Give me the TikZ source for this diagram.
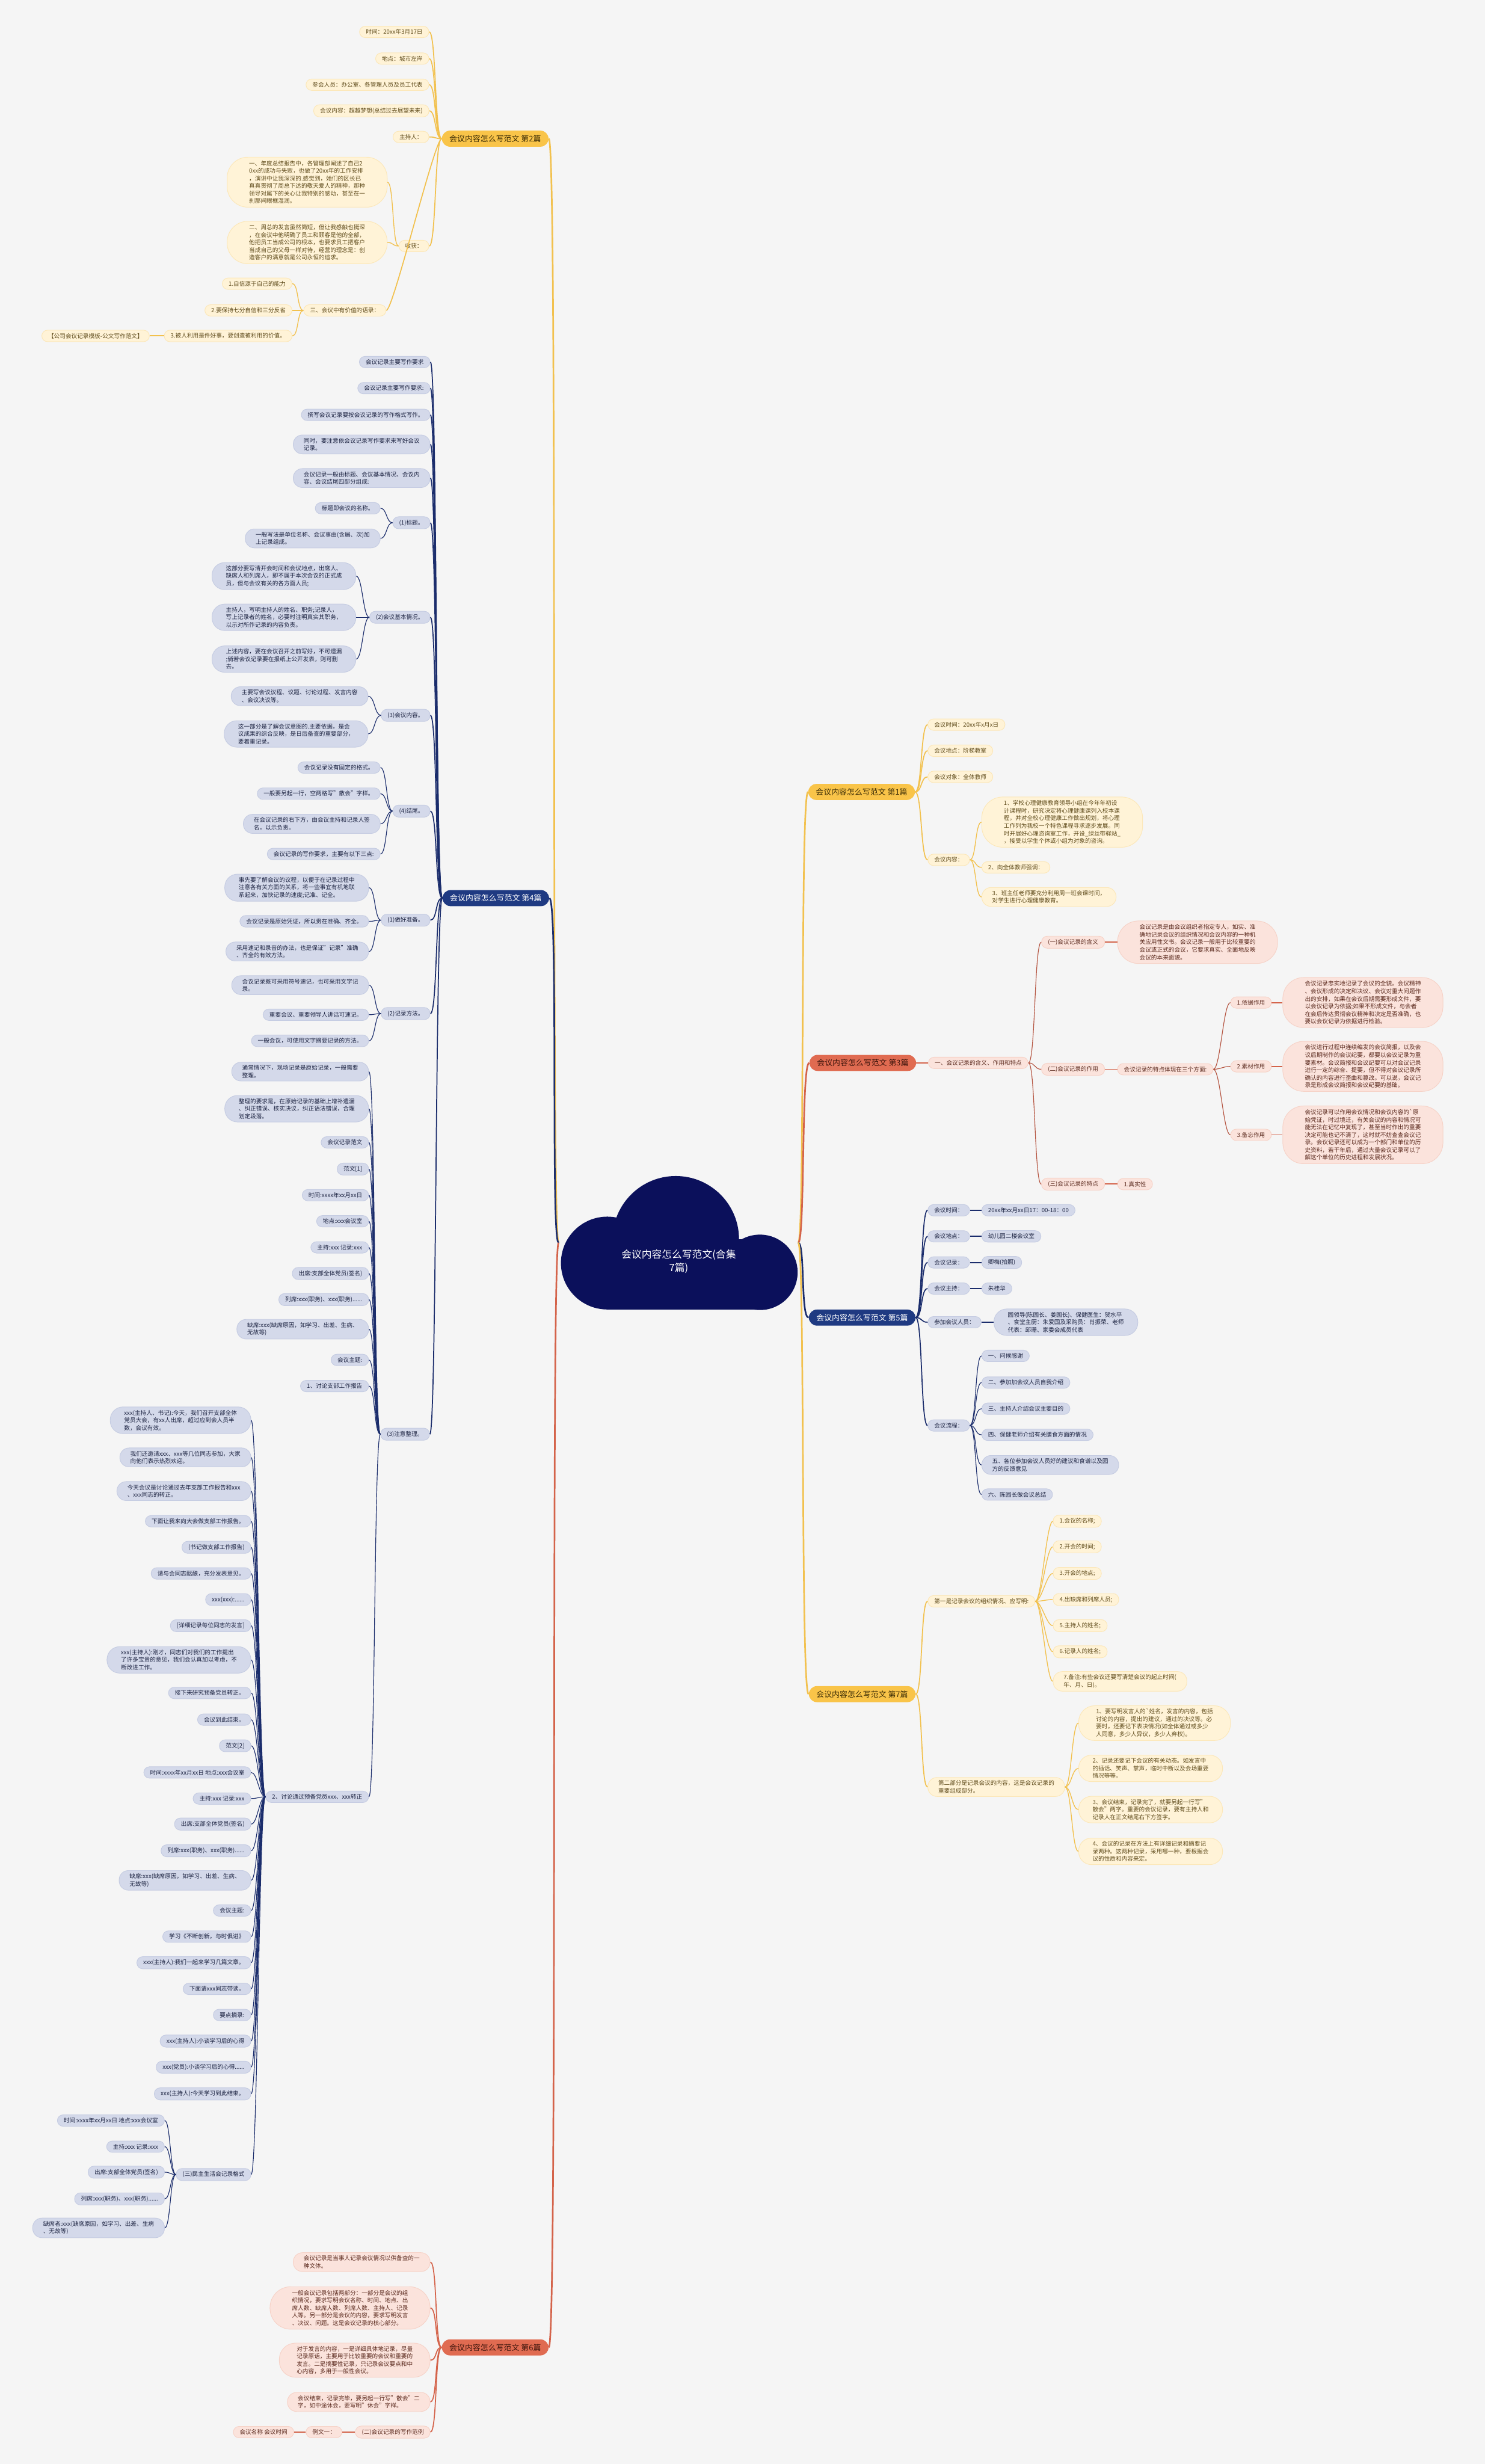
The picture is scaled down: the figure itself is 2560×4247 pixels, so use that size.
\documentclass[tikz,border=0pt]{standalone}
\usepackage{fontspec}
\setmainfont{Noto Sans CJK SC}
\definecolor{bgc}{HTML}{F5F5F5}
\definecolor{rootc}{HTML}{0B105B}
\definecolor{navyc}{HTML}{1F3A82}
\definecolor{goldc}{HTML}{F9C449}
\definecolor{coralc}{HTML}{E06B51}
\definecolor{ytitle}{HTML}{3B2C05}
\definecolor{ctitle}{HTML}{3E150C}
\definecolor{yfill}{HTML}{FFF3D7}
\definecolor{yedge}{HTML}{FCE7B8}
\definecolor{ytext}{HTML}{5E4A1A}
\definecolor{pfill}{HTML}{FBE3DC}
\definecolor{pedge}{HTML}{F6D2C7}
\definecolor{ptext}{HTML}{5B2A1E}
\definecolor{bfill}{HTML}{D4D9EA}
\definecolor{bedge}{HTML}{C5CCE2}
\definecolor{btext}{HTML}{1C2341}
\definecolor{yline}{HTML}{F2C14E}
\definecolor{nline}{HTML}{1B2D6C}
\definecolor{cline}{HTML}{D4634A}
\definecolor{bline}{HTML}{B4533F}
\begin{document}
\begin{tikzpicture}[x=0.5pt,y=-0.5pt]
    \tikzstyle{leaf}=[rounded corners=5pt,inner xsep=5.5pt,inner ysep=2.6pt,align=left,line width=0.5pt,font=\fontsize{5}{6.5}\selectfont]
    \tikzstyle{yel}=[leaf,fill=yfill,draw=yedge,text=ytext]
    \tikzstyle{pnk}=[leaf,fill=pfill,draw=pedge,text=ptext]
    \tikzstyle{blu}=[leaf,fill=bfill,draw=bedge,text=btext]
    \tikzstyle{mtwo}=[rounded corners=8pt,inner xsep=9pt]
    \tikzstyle{mthree}=[rounded corners=11pt,inner xsep=12pt]
    \tikzstyle{mfour}=[rounded corners=14pt,inner xsep=15pt]
    \tikzstyle{big}=[rounded corners=18pt,inner xsep=19pt,inner ysep=3pt]
    \tikzstyle{branch}=[rounded corners=7pt,inner xsep=6.5pt,inner ysep=3.8pt,font=\fontsize{6.7}{8}\selectfont]
    \tikzstyle{lft}=[anchor=east]
    \tikzstyle{rgt}=[anchor=west]
    \tikzstyle{ylk}=[draw=yline,line width=0.7pt]
    \tikzstyle{nlk}=[draw=nline,line width=0.6pt]
    \tikzstyle{clk}=[draw=bline,line width=0.6pt]
    \tikzstyle{trunk}=[line width=1.4pt]
    \useasboundingbox (0,0) rectangle (2560,4247);
    \fill[bgc] (0,0) rectangle (2560,4247);
    % cloud in the middle
    \fill[rootc] (1047,2177) circle (40pt);
    \fill[rootc] (1165,2136) circle (54.5pt);
    \fill[rootc] (1310,2193) circle (32.5pt);
    \fill[rootc] (1047,2136) rectangle (1310,2257);
    \node[text=white,align=center,font=\fontsize{8.7}{11.5}\selectfont] (root) at (1170,2174) {会议内容怎么写范文(合集\\7篇)};
    \coordinate (rootL) at (963,2142);
    \coordinate (rootR) at (1376,2142);

    % ---- 第2篇
    \node[branch,lft,fill=goldc,text=ytitle] (b2) at (946,239) {会议内容怎么写范文 第2篇};
    \node[yel,lft] (t1) at (740,55) {时间：20xx年3月17日};
    \node[yel,lft] (t2) at (740,101) {地点：城市左岸};
    \node[yel,lft] (t3) at (740,146) {参会人员：办公室、各管理人员及员工代表};
    \node[yel,lft] (t4) at (740,191) {会议内容：超越梦想(总结过去展望未来)};
    \node[yel,lft] (t5) at (740,236) {主持人：};
    \node[yel,lft] (shou) at (740,424) {收获：};
    \node[yel,big,lft] (s1) at (668,314) {一、年度总结报告中，各管理部阐述了自己2\\0xx的成功与失败，也做了20xx年的工作安排\\，演讲中让我深深的.感觉到，她们的区长已\\真真贯彻了周总下达的敬天爱人的精神，那种\\领导对属下的关心让我特别的感动，甚至在一\\刹那间眼框湿润。};
    \node[yel,big,lft] (s2) at (668,418) {二、周总的发言虽然简短，但让我感触也挺深\\，在会议中他明确了员工和顾客是他的全部，\\他把员工当成公司的根本，也要求员工把客户\\当成自己的父母一样对待，经营的理念是：创\\造客户的满意就是公司永恒的追求。};
    \node[yel,lft] (san) at (666,535) {三、会议中有价值的语录：};
    \node[yel,lft] (q1) at (504,489) {1.自信源于自己的能力};
    \node[yel,lft] (q2) at (504,535) {2.要保持七分自信和三分反省};
    \node[yel,lft] (q3) at (504,579) {3.被人利用是件好事，要创造被利用的价值。};
    \node[yel,lft] (q3x) at (258,579) {【公司会议记录模板-公文写作范文】};

    % ---- 第4篇
    \node[branch,lft,fill=navyc,text=white] (b4) at (947,1548) {会议内容怎么写范文 第4篇};
    \node[blu,lft] (c1) at (742,624) {会议记录主要写作要求};
    \node[blu,lft] (c2) at (742,669) {会议记录主要写作要求:};
    \node[blu,lft] (c3) at (742,715) {撰写会议记录要按会议记录的写作格式写作。};
    \node[blu,mtwo,lft] (c4) at (742,766) {同时，要注意依会议记录写作要求来写好会议\\记录。};
    \node[blu,mtwo,lft] (c5) at (742,824) {会议记录一般由标题、会议基本情况、会议内\\容、会议结尾四部分组成:};
    \node[blu,lft] (h1) at (742,901) {(1)标题。};
    \node[blu,lft] (h1a) at (656,876) {标题即会议的名称。};
    \node[blu,mtwo,lft] (h1b) at (656,928) {一般写法是单位名称、会议事由(含届、次)加\\上记录组成。};
    \node[blu,lft] (h2) at (742,1064) {(2)会议基本情况。};
    \node[blu,mthree,lft] (h2a) at (614,993) {这部分要写清开会时间和会议地点，出席人、\\缺席人和列席人，即不属于本次会议的正式成\\员，但与会议有关的各方面人员;};
    \node[blu,mthree,lft] (h2b) at (614,1064) {主持人，写明主持人的姓名、职务;记录人，\\写上记录者的姓名，必要时注明真实其职务，\\以示对所作记录的内容负责。};
    \node[blu,mthree,lft] (h2c) at (614,1136) {上述内容，要在会议召开之前写好，不可遗漏\\;倘若会议记录要在报纸上公开发表，则可删\\去。};
    \node[blu,lft] (h3) at (742,1233) {(3)会议内容。};
    \node[blu,mtwo,lft] (h3a) at (635,1200) {主要写会议议程、议题、讨论过程、发言内容\\、会议决议等。};
    \node[blu,mthree,lft] (h3b) at (635,1265) {这一部分是了解会议意图的.主要依据，是会\\议成果的综合反映，是日后备查的重要部分，\\要着重记录。};
    \node[blu,lft] (h4) at (742,1398) {(4)结尾。};
    \node[blu,lft] (h4a) at (656,1323) {会议记录没有固定的格式。};
    \node[blu,lft] (h4b) at (656,1368) {一般要另起一行，空两格写"散会"字样。};
    \node[blu,mtwo,lft] (h4c) at (656,1420) {在会议记录的右下方，由会议主持和记录人签\\名，以示负责。};
    \node[blu,lft] (h4d) at (656,1472) {会议记录的写作要求，主要有以下三点:};
    \node[blu,lft] (p1) at (742,1586) {(1)做好准备。};
    \node[blu,mthree,lft] (p1a) at (636,1530) {事先要了解会议的议程，以便于在记录过程中\\注意各有关方面的关系，将一些事宜有机地联\\系起来，加快记录的速度;记准、记全。};
    \node[blu,lft] (p1b) at (636,1588) {会议记录是原始凭证，所以贵在准确、齐全。};
    \node[blu,mtwo,lft] (p1c) at (636,1640) {采用速记和录音的办法，也是保证"记录"准确\\、齐全的有效方法。};
    \node[blu,lft] (p2) at (742,1747) {(2)记录方法。};
    \node[blu,mtwo,lft] (p2a) at (636,1698) {会议记录既可采用符号速记，也可采用文字记\\录。};
    \node[blu,lft] (p2b) at (636,1749) {重要会议、重要领导人讲话可速记。};
    \node[blu,lft] (p2c) at (636,1794) {一般会议，可使用文字摘要记录的方法。};
    \node[blu,lft] (p3) at (741,2472) {(3)注意整理。};
    \node[blu,mtwo,lft] (z1) at (636,1847) {通常情况下，现场记录是原始记录，一般需要\\整理。};
    \node[blu,mthree,lft] (z2) at (636,1911) {整理的要求是，在原始记录的基础上增补遗漏\\、纠正错误、核实决议，纠正语法错误，合理\\划定段落。};
    \node[blu,lft] (z3) at (636,1969) {会议记录范文};
    \node[blu,lft] (z4) at (636,2015) {范文[1]};
    \node[blu,lft] (z5) at (636,2060) {时间:xxxx年xx月xx日};
    \node[blu,lft] (z6) at (636,2105) {地点:xxx会议室};
    \node[blu,lft] (z7) at (636,2150) {主持:xxx 记录:xxx};
    \node[blu,lft] (z8) at (636,2195) {出席:支部全体党员(签名)};
    \node[blu,lft] (z9) at (636,2240) {列席:xxx(职务)、xxx(职务)......};
    \node[blu,mtwo,lft] (z10) at (636,2291) {缺席:xxx(缺席原因，如学习、出差、生病、\\无故等)};
    \node[blu,lft] (z11) at (636,2344) {会议主题:};
    \node[blu,lft] (z12) at (636,2389) {1、讨论支部工作报告};
    \node[blu,lft] (zz) at (636,3097) {2、讨论通过预备党员xxx、xxx转正};
    \node[blu,mthree,lft] (y1) at (433,2448) {xxx(主持人、书记):今天，我们召开支部全体\\党员大会，有xx人出席，超过应到会人员半\\数，会议有效。};
    \node[blu,mtwo,lft] (y2) at (433,2512) {我们还邀请xxx、xxx等几位同志参加，大家\\向他们表示热烈欢迎。};
    \node[blu,mtwo,lft] (y3) at (433,2570) {今天会议是讨论通过去年支部工作报告和xxx\\、xxx同志的转正。};
    \node[blu,lft] (y4) at (433,2622) {下面让我来向大会做支部工作报告。};
    \node[blu,lft] (y5) at (433,2667) {(书记做支部工作报告)};
    \node[blu,lft] (y6) at (433,2712) {请与会同志酝酿，充分发表意见。};
    \node[blu,lft] (y7) at (433,2757) {xxx(xxx):......};
    \node[blu,lft] (y8) at (433,2802) {[详细记录每位同志的发言]};
    \node[blu,mthree,lft] (y9) at (433,2861) {xxx(主持人):刚才，同志们对我们的工作提出\\了许多宝贵的意见，我们会认真加以考虑，不\\断改进工作。};
    \node[blu,lft] (y10) at (433,2918) {接下来研究预备党员转正。};
    \node[blu,lft] (y11) at (433,2964) {会议到此结束。};
    \node[blu,lft] (y12) at (433,3009) {范文[2]};
    \node[blu,lft] (y13) at (433,3055) {时间:xxxx年xx月xx日 地点:xxx会议室};
    \node[blu,lft] (y14) at (433,3100) {主持:xxx 记录:xxx};
    \node[blu,lft] (y15) at (433,3144) {出席:支部全体党员(签名)};
    \node[blu,lft] (y16) at (433,3190) {列席:xxx(职务)、xxx(职务)......};
    \node[blu,mtwo,lft] (y17) at (433,3241) {缺席:xxx(缺席原因，如学习、出差、生病、\\无故等)};
    \node[blu,lft] (y18) at (433,3293) {会议主题:};
    \node[blu,lft] (y19) at (433,3338) {学习《不断创新，与时俱进》};
    \node[blu,lft] (y20) at (433,3383) {xxx(主持人):我们一起来学习几篇文章。};
    \node[blu,lft] (y21) at (433,3428) {下面请xxx同志带读。};
    \node[blu,lft] (y22) at (433,3473) {要点摘录:};
    \node[blu,lft] (y23) at (433,3518) {xxx(主持人):小谈学习后的心得};
    \node[blu,lft] (y24) at (433,3563) {xxx(党员):小谈学习后的心得......};
    \node[blu,lft] (y25) at (433,3609) {xxx(主持人):今天学习到此结束。};
    \node[blu,lft] (sm) at (433,3748) {(三)民主生活会记录格式};
    \node[blu,lft] (m1) at (284,3655) {时间:xxxx年xx月xx日 地点:xxx会议室};
    \node[blu,lft] (m2) at (284,3700) {主持:xxx 记录:xxx};
    \node[blu,lft] (m3) at (284,3744) {出席:支部全体党员(签名)};
    \node[blu,lft] (m4) at (284,3790) {列席:xxx(职务)、xxx(职务)......};
    \node[blu,mtwo,lft] (m5) at (284,3840) {缺席者:xxx(缺席原因，如学习、出差、生病\\、无故等)};

    % ---- 第6篇
    \node[branch,lft,fill=coralc,text=ctitle] (b6) at (946,4046) {会议内容怎么写范文 第6篇};
    \node[pnk,mtwo,lft] (e1) at (742,3899) {会议记录是当事人记录会议情况以供备查的一\\种文体。};
    \node[pnk,big,lft] (e2) at (742,3978) {一般会议记录包括两部分：一部分是会议的组\\织情况，要求写明会议名称、时间、地点、出\\席人数、缺席人数、列席人数、主持人、记录\\人等。另一部分是会议的内容，要求写明发言\\、决议、问题。这是会议记录的核心部分。};
    \node[pnk,mfour,lft] (e3) at (742,4068) {对于发言的内容，一是详细具体地记录，尽量\\记录原话，主要用于比较重要的会议和重要的\\发言。二是摘要性记录，只记录会议要点和中\\心内容，多用于一般性会议。};
    \node[pnk,mtwo,lft] (e4) at (742,4140) {会议结束，记录完毕，要另起一行写"散会"二\\字，如中途休会，要写明"休会"字样。};
    \node[pnk,lft] (e5) at (742,4192) {(二)会议记录的写作范例};
    \node[pnk,lft] (e5a) at (590,4192) {例文一：};
    \node[pnk,lft] (e5b) at (507,4192) {会议名称 会议时间};

    % ---- 第1篇
    \node[branch,rgt,fill=goldc,text=ytitle] (b1) at (1393,1365) {会议内容怎么写范文 第1篇};
    \node[yel,rgt] (a1) at (1599,1249) {会议时间：20xx年x月x日};
    \node[yel,rgt] (a2) at (1599,1294) {会议地点：阶梯教室};
    \node[yel,rgt] (a3) at (1599,1339) {会议对象：全体教师};
    \node[yel,rgt] (a4) at (1599,1482) {会议内容：};
    \node[yel,big,rgt] (a4a) at (1692,1417) {1、学校心理健康教育领导小组在今年年初设\\计课程时，研究决定将心理健康课列入校本课\\程，并对全校心理健康工作做出规划，将心理\\工作列为我校一个特色课程寻求逐步发展。同\\时开展好心理咨询室工作，开设\_绿丝带驿站\_\\，接受以学生个体或小组为对象的咨询。};
    \node[yel,rgt] (a4b) at (1692,1495) {2、向全体教师强调：};
    \node[yel,mtwo,rgt] (a4c) at (1692,1546) {3、班主任老师要充分利用周一班会课时间，\\对学生进行心理健康教育。};

    % ---- 第3篇
    \node[branch,rgt,fill=coralc,text=ctitle] (b3) at (1395,1832) {会议内容怎么写范文 第3篇};
    \node[pnk,rgt] (d0) at (1600,1832) {一、会议记录的含义、作用和特点};
    \node[pnk,rgt] (d1) at (1795,1624) {(一)会议记录的含义};
    \node[pnk,big,rgt] (d1a) at (1926,1624) {会议记录是由会议组织者指定专人，如实、准\\确地记录会议的组织情况和会议内容的一种机\\关应用性文书。会议记录一般用于比较重要的\\会议或正式的会议，它要求真实、全面地反映\\会议的本来面貌。};
    \node[pnk,rgt] (d2) at (1795,1843) {(二)会议记录的作用};
    \node[pnk,rgt] (d2a) at (1926,1843) {会议记录的特点体现在三个方面:};
    \node[pnk,rgt] (f1) at (2121,1728) {1.依据作用};
    \node[pnk,big,rgt] (f1a) at (2211,1728) {会议记录忠实地记录了会议的全貌。会议精神\\、会议形成的决定和决议、会议对重大问题作\\出的安排，如果在会议后期需要形成文件，要\\以会议记录为依据;如果不形成文件，与会者\\在会后传达贯彻会议精神和决定是否准确，也\\要以会议记录为依据进行检验。};
    \node[pnk,rgt] (f2) at (2121,1838) {2.素材作用};
    \node[pnk,big,rgt] (f2a) at (2211,1838) {会议进行过程中连续编发的会议简报，以及会\\议后期制作的会议纪要，都要以会议记录为重\\要素材。会议简报和会议纪要可以对会议记录\\进行一定的综合、提要，但不得对会议记录所\\确认的内容进行歪曲和篡改。可以说，会议记\\录是形成会议简报和会议纪要的基础。};
    \node[pnk,rgt] (f3) at (2121,1956) {3.备忘作用};
    \node[pnk,big,rgt] (f3a) at (2211,1956) {会议记录可以作用会议情况和会议内容的\textasciigrave 原\\始凭证，时过境迁，有关会议的内容和情况可\\能无法在记忆中复现了，甚至当时作出的重要\\决定可能也记不清了，这时就不妨查查会议记\\录。会议记录还可以成为一个部门和单位的历\\史资料，若干年后，通过大量会议记录可以了\\解这个单位的历史进程和发展状况。};
    \node[pnk,rgt] (d3) at (1795,2041) {(三)会议记录的特点};
    \node[pnk,rgt] (d3a) at (1926,2041) {1.真实性};

    % ---- 第5篇
    \node[branch,rgt,fill=navyc,text=white] (b5) at (1394,2271) {会议内容怎么写范文 第5篇};
    \node[blu,rgt] (g1) at (1599,2086) {会议时间：};
    \node[blu,rgt] (g1a) at (1692,2086) {20xx年xx月xx日17：00-18：00};
    \node[blu,rgt] (g2) at (1599,2131) {会议地点：};
    \node[blu,rgt] (g2a) at (1692,2131) {幼儿园二楼会议室};
    \node[blu,rgt] (g3) at (1599,2176) {会议记录：};
    \node[blu,rgt] (g3a) at (1692,2176) {卿梅(拍照)};
    \node[blu,rgt] (g4) at (1599,2221) {会议主持：};
    \node[blu,rgt] (g4a) at (1692,2221) {朱桂华};
    \node[blu,rgt] (g5) at (1599,2279) {参加会议人员：};
    \node[blu,mthree,rgt] (g5a) at (1713,2279) {园领导(陈园长、姜园长)、保健医生：贺水平\\、食堂主厨：朱爱国及采购员：肖振荣、老师\\代表：邱珊、家委会成员代表};
    \node[blu,rgt] (g6) at (1599,2457) {会议流程：};
    \node[blu,rgt] (g6a) at (1692,2337) {一、问候感谢};
    \node[blu,rgt] (g6b) at (1692,2383) {二、参加加会议人员自我介绍};
    \node[blu,rgt] (g6c) at (1692,2428) {三、主持人介绍会议主要目的};
    \node[blu,rgt] (g6d) at (1692,2473) {四、保健老师介绍有关膳食方面的情况};
    \node[blu,mtwo,rgt] (g6e) at (1692,2525) {五、各位参加会议人员好的建议和食谱以及园\\方的反馈意见};
    \node[blu,rgt] (g6f) at (1692,2576) {六、陈园长做会议总结};

    % ---- 第7篇
    \node[branch,rgt,fill=goldc,text=ytitle] (b7) at (1394,2920) {会议内容怎么写范文 第7篇};
    \node[yel,rgt] (k1) at (1599,2760) {第一是记录会议的组织情况、应写明:};
    \node[yel,rgt] (k1a) at (1815,2622) {1.会议的名称;};
    \node[yel,rgt] (k1b) at (1815,2666) {2.开会的时间;};
    \node[yel,rgt] (k1c) at (1815,2712) {3.开会的地点;};
    \node[yel,rgt] (k1d) at (1815,2757) {4.出缺席和列席人员;};
    \node[yel,rgt] (k1e) at (1815,2802) {5.主持人的姓名;};
    \node[yel,rgt] (k1f) at (1815,2847) {6.记录人的姓名;};
    \node[yel,mtwo,rgt] (k1g) at (1815,2898) {7.备注:有些会议还要写清楚会议的起止时间(\\年、月、日)。};
    \node[yel,mtwo,rgt] (k2) at (1599,3080) {第二部分是记录会议的内容，这是会议记录的\\重要组成部分。};
    \node[yel,mfour,rgt] (k2a) at (1859,2970) {1、要写明发言人的\textasciigrave 姓名，发言的内容，包括\\讨论的内容，提出的建议，通过的决议等。必\\要时，还要记下表决情况(如全体通过或多少\\人同意，多少人异议，多少人弃权)。};
    \node[yel,mthree,rgt] (k2b) at (1859,3048) {2、记录还要记下会议的有关动态。如发言中\\的插话、笑声、掌声，临时中断以及会场重要\\情况等等。};
    \node[yel,mthree,rgt] (k2c) at (1859,3119) {3、会议结束，记录完了，就要另起一行写"\\散会"两字。重要的会议记录，要有主持人和\\记录人在正文结尾右下方签字。};
    \node[yel,mthree,rgt] (k2d) at (1859,3191) {4、会议的记录在方法上有详细记录和摘要记\\录两种。这两种记录，采用哪一种，要根据会\\议的性质和内容来定。};

    % trunks from the cloud
    \draw[ylk,trunk] (rootL) .. controls +(-14,0) and +(16,0) .. (b2.east);
    \draw[nlk,trunk] (rootL) .. controls +(-14,0) and +(16,0) .. (b4.east);
    \draw[draw=cline,trunk] (rootL) .. controls +(-14,0) and +(16,0) .. (b6.east);
    \draw[ylk,trunk] (rootR) .. controls +(12,0) and +(-14,0) .. (b1.west);
    \draw[draw=cline,trunk] (rootR) .. controls +(12,0) and +(-14,0) .. (b3.west);
    \draw[nlk,trunk] (rootR) .. controls +(12,0) and +(-14,0) .. (b5.west);
    \draw[ylk,trunk] (rootR) .. controls +(12,0) and +(-14,0) .. (b7.west);

    % left side links
    \foreach \nd in {t1,t2,t3,t4,t5,shou,san}
      \draw[ylk,line width=0.9pt] (b2.west) .. controls +(-12,0) and +(12,0) .. (\nd.east);
    \foreach \nd in {s1,s2}
      \draw[ylk] (shou.west) .. controls +(-11,0) and +(11,0) .. (\nd.east);
    \foreach \nd in {q1,q2,q3}
      \draw[ylk] (san.west) .. controls +(-11,0) and +(11,0) .. (\nd.east);
    \draw[ylk,line width=1pt] (q3.west) -- (q3x.east);
    \foreach \nd in {c1,c2,c3,c4,c5,h1,h2,h3,h4,p1,p2,p3}
      \draw[nlk,line width=0.9pt] (b4.west) .. controls +(-12,0) and +(12,0) .. (\nd.east);
    \foreach \nd in {h1a,h1b}
      \draw[nlk] (h1.west) .. controls +(-11,0) and +(11,0) .. (\nd.east);
    \foreach \nd in {h2a,h2b,h2c}
      \draw[nlk] (h2.west) .. controls +(-11,0) and +(11,0) .. (\nd.east);
    \foreach \nd in {h3a,h3b}
      \draw[nlk] (h3.west) .. controls +(-11,0) and +(11,0) .. (\nd.east);
    \foreach \nd in {h4a,h4b,h4c,h4d}
      \draw[nlk] (h4.west) .. controls +(-11,0) and +(11,0) .. (\nd.east);
    \foreach \nd in {p1a,p1b,p1c}
      \draw[nlk] (p1.west) .. controls +(-11,0) and +(11,0) .. (\nd.east);
    \foreach \nd in {p2a,p2b,p2c}
      \draw[nlk] (p2.west) .. controls +(-11,0) and +(11,0) .. (\nd.east);
    \foreach \nd in {z1,z2,z3,z4,z5,z6,z7,z8,z9,z10,z11,z12,zz}
      \draw[nlk] (p3.west) .. controls +(-11,0) and +(11,0) .. (\nd.east);
    \foreach \nd in {y1,y2,y3,y4,y5,y6,y7,y8,y9,y10,y11,y12,y13,y14,y15,y16,y17,y18,y19,y20,y21,y22,y23,y24,y25,sm}
      \draw[nlk] (zz.west) .. controls +(-11,0) and +(11,0) .. (\nd.east);
    \foreach \nd in {m1,m2,m3,m4,m5}
      \draw[nlk] (sm.west) .. controls +(-10,0) and +(10,0) .. (\nd.east);
    \foreach \nd in {e1,e2,e3,e4,e5}
      \draw[draw=cline,line width=0.9pt] (b6.west) .. controls +(-12,0) and +(12,0) .. (\nd.east);
    \draw[draw=cline,line width=1pt] (e5.west) -- (e5a.east);
    \draw[draw=cline,line width=1pt] (e5a.west) -- (e5b.east);

    % right side links
    \foreach \nd in {a1,a2,a3,a4}
      \draw[ylk,line width=0.9pt] (b1.east) .. controls +(12,0) and +(-12,0) .. (\nd.west);
    \foreach \nd in {a4a,a4b,a4c}
      \draw[ylk] (a4.east) .. controls +(11,0) and +(-11,0) .. (\nd.west);
    \draw[draw=cline,line width=1pt] (b3.east) -- (d0.west);
    \foreach \nd in {d1,d2,d3}
      \draw[clk] (d0.east) .. controls +(12,0) and +(-12,0) .. (\nd.west);
    \draw[draw=cline,line width=1pt] (d1.east) -- (d1a.west);
    \draw[draw=cline,line width=1pt] (d2.east) -- (d2a.west);
    \draw[draw=cline,line width=1pt] (d3.east) -- (d3a.west);
    \foreach \nd in {f1,f2,f3}
      \draw[clk] (d2a.east) .. controls +(12,0) and +(-12,0) .. (\nd.west);
    \draw[draw=cline,line width=1pt] (f1.east) -- (f1a.west);
    \draw[draw=cline,line width=1pt] (f2.east) -- (f2a.west);
    \draw[draw=cline,line width=1pt] (f3.east) -- (f3a.west);
    \foreach \nd in {g1,g2,g3,g4,g5,g6}
      \draw[nlk,line width=0.9pt] (b5.east) .. controls +(12,0) and +(-12,0) .. (\nd.west);
    \draw[nlk,line width=1.1pt] (g1.east) -- (g1a.west);
    \draw[nlk,line width=1.1pt] (g2.east) -- (g2a.west);
    \draw[nlk,line width=1.1pt] (g3.east) -- (g3a.west);
    \draw[nlk,line width=1.1pt] (g4.east) -- (g4a.west);
    \draw[nlk,line width=1.1pt] (g5.east) -- (g5a.west);
    \foreach \nd in {g6a,g6b,g6c,g6d,g6e,g6f}
      \draw[nlk] (g6.east) .. controls +(11,0) and +(-11,0) .. (\nd.west);
    \foreach \nd in {k1,k2}
      \draw[ylk,line width=0.9pt] (b7.east) .. controls +(12,0) and +(-12,0) .. (\nd.west);
    \foreach \nd in {k1a,k1b,k1c,k1d,k1e,k1f,k1g}
      \draw[ylk] (k1.east) .. controls +(11,0) and +(-11,0) .. (\nd.west);
    \foreach \nd in {k2a,k2b,k2c,k2d}
      \draw[ylk] (k2.east) .. controls +(11,0) and +(-11,0) .. (\nd.west);
\end{tikzpicture}
\end{document}
